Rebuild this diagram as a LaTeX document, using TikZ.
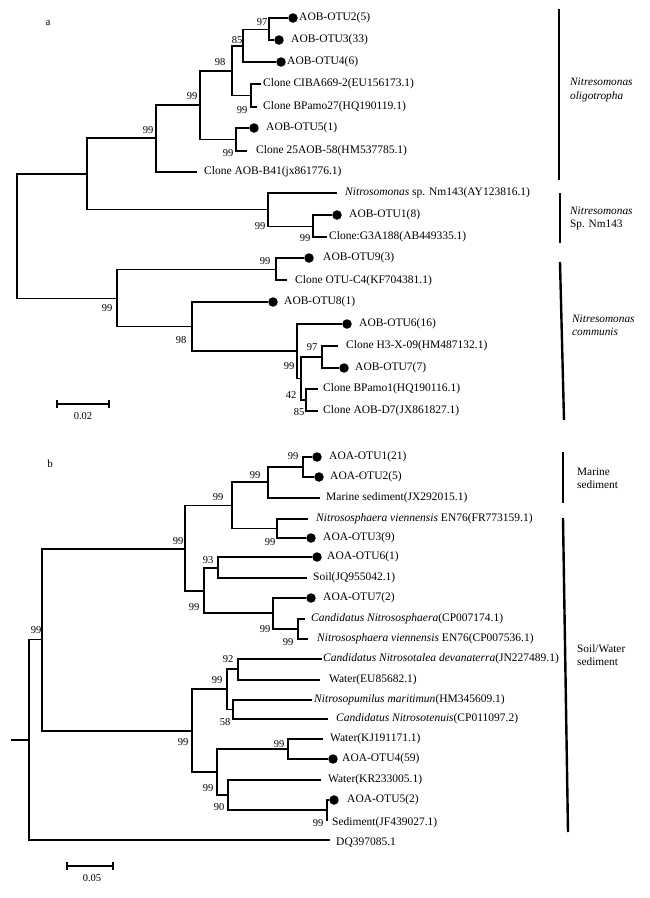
\documentclass[tikz,border=0pt]{standalone}
\usepackage{fontspec}
\setmainfont{Liberation Serif}
\begin{document}
\begin{tikzpicture}[x=1pt,y=-1pt,
  br/.style={line width=1.1pt},
  lbl/.style={anchor=west, inner sep=0pt, font=\fontsize{11.5}{13}\selectfont},
  bs/.style={inner sep=0pt, font=\fontsize{10.5}{12}\selectfont},
  otu/.style={circle, fill=black, inner sep=0pt, minimum size=9.5pt},
  clade/.style={line width=2.4pt},
  cladelbl/.style={anchor=west, align=left, inner sep=0pt, font=\fontsize{11.3}{13.2}\selectfont},
  scalebar/.style={line width=2pt},
  panel/.style={inner sep=0pt, font=\fontsize{11}{13}\selectfont}]
\useasboundingbox (0,0) rectangle (649,898);
\fill[white] (0,0) rectangle (649,898);

% ================= Panel a =================
\node[panel] (pa) at (48,23) {a};
% internal nodes
\coordinate (aR) at (17,235.5);
\coordinate (A1) at (87,174);
\coordinate (B) at (156,138);
\coordinate (D) at (200,105);
\coordinate (E) at (232,71);
\coordinate (G) at (243,46);
\coordinate (I) at (269,29.5);
\coordinate (H) at (251,95.5);
\coordinate (F) at (236,139.5);
\coordinate (J) at (268,209.5);
\coordinate (K) at (313,226.5);
\coordinate (C) at (117,298.5);
\coordinate (L) at (276,269.5);
\coordinate (M) at (192,326.5);
\coordinate (N) at (297,351);
\coordinate (O) at (301,378.5);
\coordinate (Q) at (322,357);
\coordinate (P) at (306,400);
% leaves
\node[otu] (dA2) at (293,18) {};
\node[otu] (dA3) at (279,40) {};
\node[otu] (dA4) at (281,62) {};
\coordinate (eCIBA) at (261,84);
\coordinate (eBP27) at (257,107);
\node[otu] (dA5) at (254,128) {};
\coordinate (e25AOB) at (247,151);
\coordinate (eB41) at (197,172);
\coordinate (eNm) at (337,193);
\node[otu] (dA1) at (337,215) {};
\coordinate (eG3) at (327,237);
\node[otu] (dA9) at (309,258) {};
\coordinate (eC4) at (287,280);
\node[otu] (dA8) at (273,302) {};
\node[otu] (dA6) at (347,324) {};
\coordinate (eH3) at (338,346);
\node[otu] (dA7) at (344,368) {};
\coordinate (eBP1) at (318,389);
\coordinate (eD7) at (318,411);
% labels
\node[lbl] (tA2) at (299,18) {AOB-OTU2(5)};
\node[lbl] (tA3) at (291,40) {AOB-OTU3(33)};
\node[lbl] (tA4) at (287,62) {AOB-OTU4(6)};
\node[lbl] (tCIBA) at (263,84) {Clone CIBA669-2(EU156173.1)};
\node[lbl] (tBP27) at (263,107) {Clone BPamo27(HQ190119.1)};
\node[lbl] (tA5) at (266,128) {AOB-OTU5(1)};
\node[lbl] (t25AOB) at (256,151) {Clone 25AOB-58(HM537785.1)};
\node[lbl] (tB41) at (204,172) {Clone AOB-B41(jx861776.1)};
\node[lbl] (tNm) at (345,193) {\textit{Nitrosomonas} sp. Nm143(AY123816.1)};
\node[lbl] (tA1) at (349,215) {AOB-OTU1(8)};
\node[lbl] (tG3) at (329,237) {Clone:G3A188(AB449335.1)};
\node[lbl] (tA9) at (323,258) {AOB-OTU9(3)};
\node[lbl] (tC4) at (295,281) {Clone OTU-C4(KF704381.1)};
\node[lbl] (tA8) at (284,302) {AOB-OTU8(1)};
\node[lbl] (tA6) at (359,324) {AOB-OTU6(16)};
\node[lbl] (tH3) at (346,346) {Clone H3-X-09(HM487132.1)};
\node[lbl] (tA7) at (355,368) {AOB-OTU7(7)};
\node[lbl] (tBP1) at (323,389) {Clone BPamo1(HQ190116.1)};
\node[lbl] (tD7) at (323,411) {Clone AOB-D7(JX861827.1)};
% branches
\draw[br] (aR) |- (A1);
\draw[br] (aR) |- (C);
\draw[br] (A1) |- (B);
\draw[br] (A1) |- (J);
\draw[br] (B) |- (D);
\draw[br] (B) |- (eB41);
\draw[br] (D) |- (E);
\draw[br] (D) |- (F);
\draw[br] (E) |- (G);
\draw[br] (E) |- (H);
\draw[br] (G) |- (I);
\draw[br] (G) |- (dA4);
\draw[br] (I) |- (dA2);
\draw[br] (I) |- (dA3);
\draw[br] (H) |- (eCIBA);
\draw[br] (H) |- (eBP27);
\draw[br] (F) |- (dA5);
\draw[br] (F) |- (e25AOB);
\draw[br] (J) |- (eNm);
\draw[br] (J) |- (K);
\draw[br] (K) |- (dA1);
\draw[br] (K) |- (eG3);
\draw[br] (C) |- (L);
\draw[br] (C) |- (M);
\draw[br] (L) |- (dA9);
\draw[br] (L) |- (eC4);
\draw[br] (M) |- (dA8);
\draw[br] (M) |- (N);
\draw[br] (N) |- (dA6);
\draw[br] (N) |- (O);
\draw[br] (O) |- (Q);
\draw[br] (O) |- (P);
\draw[br] (Q) |- (eH3);
\draw[br] (Q) |- (dA7);
\draw[br] (P) |- (eBP1);
\draw[br] (P) |- (eD7);
% bootstrap values
\node[bs] (bI) at (262,22) {97};
\node[bs] (bG) at (237,40) {85};
\node[bs] (bE) at (220,62) {98};
\node[bs] (bD) at (192,96) {99};
\node[bs] (bB) at (148,130) {99};
\node[bs] (bH) at (242,110) {99};
\node[bs] (bF) at (228,153) {99};
\node[bs] (bJ) at (260,226) {99};
\node[bs] (bK) at (305,238) {99};
\node[bs] (bC) at (107,308) {99};
\node[bs] (bL) at (265,261) {99};
\node[bs] (bM) at (181,340) {98};
\node[bs] (bQ) at (312,347) {97};
\node[bs] (bN) at (289,366) {99};
\node[bs] (bO) at (291,395) {42};
\node[bs] (bP) at (299,412) {85};
% scale bar
\coordinate (sa1) at (57,404);
\coordinate (sa2) at (109,404);
\draw[scalebar] (sa1) -- (sa2);
\draw[scalebar] ([yshift=4pt]sa1) -- ([yshift=-4pt]sa1);
\draw[scalebar] ([yshift=4pt]sa2) -- ([yshift=-4pt]sa2);
\node[bs] (sal) at (83,416) {0.02};
% clade bars
\coordinate (ca1t) at (559,9);   \coordinate (ca1b) at (559,180);
\coordinate (ca2t) at (560,193); \coordinate (ca2b) at (560,243);
\coordinate (ca3t) at (560,262); \coordinate (ca3b) at (564,420);
\draw[clade] (ca1t) -- (ca1b);
\draw[clade] (ca2t) -- (ca2b);
\draw[clade] (ca3t) -- (ca3b);
\node[cladelbl] (la1) at (570,90) {\textit{Nitresomonas}\\\textit{oligotropha}};
\node[cladelbl] (la2) at (570,218.5) {\textit{Nitresomonas}\\Sp. Nm143};
\node[cladelbl] (la3) at (572,325) {\textit{Nitresomonas}\\\textit{communis}};

% ================= Panel b =================
\node[panel] (pb) at (50,464) {b};
\coordinate (bstub) at (11,740);
\coordinate (bR0) at (29,740);
\coordinate (R) at (42,639.5);
\coordinate (S) at (185,549);
\coordinate (U) at (232,505.5);
\coordinate (W) at (268,482);
\coordinate (Y) at (303,467);
\coordinate (X) at (277,528.5);
\coordinate (V) at (204,591);
\coordinate (Z) at (218,568);
\coordinate (AA) at (273,613);
\coordinate (AB) at (298,629);
\coordinate (T) at (192,731);
\coordinate (AC) at (227,689);
\coordinate (AE) at (238,669);
\coordinate (AF) at (233,709.5);
\coordinate (AD) at (217,772);
\coordinate (AG) at (288,749);
\coordinate (AH) at (228,795);
\coordinate (AI) at (327,810);
% leaves
\node[otu] (dB1) at (317,457) {};
\node[otu] (dB2) at (319,477) {};
\coordinate (eMar) at (320,498);
\coordinate (eNvFR) at (308,519);
\node[otu] (dB3) at (311,538) {};
\node[otu] (dB6) at (317,557) {};
\coordinate (eSoil) at (307,578);
\node[otu] (dB7) at (311,598) {};
\coordinate (eCNs) at (305,619);
\coordinate (eNvCP) at (308,639);
\coordinate (eCNt) at (322,659);
\coordinate (eWEU) at (320,680);
\coordinate (eNpm) at (312,700);
\coordinate (eCNte) at (328,719);
\coordinate (eWKJ) at (323,739);
\node[otu] (dB4) at (333,759) {};
\coordinate (eWKR) at (321,780);
\node[otu] (dB5) at (334,800) {};
\coordinate (eSed) at (327,821);
\coordinate (eDQ) at (330,840);
% labels
\node[lbl] (tB1) at (329,457) {AOA-OTU1(21)};
\node[lbl] (tB2) at (330,477) {AOA-OTU2(5)};
\node[lbl] (tMar) at (326,498) {Marine sediment(JX292015.1)};
\node[lbl] (tNvFR) at (316,519) {\textit{Nitrososphaera viennensis} EN76(FR773159.1)};
\node[lbl] (tB3) at (323,538) {AOA-OTU3(9)};
\node[lbl] (tB6) at (327,557) {AOA-OTU6(1)};
\node[lbl] (tSoil) at (313,578) {Soil(JQ955042.1)};
\node[lbl] (tB7) at (323,598) {AOA-OTU7(2)};
\node[lbl] (tCNs) at (311,619) {\textit{Candidatus Nitrososphaera}(CP007174.1)};
\node[lbl] (tNvCP) at (317,639) {\textit{Nitrososphaera viennensis} EN76(CP007536.1)};
\node[lbl] (tCNt) at (323,659) {\textit{Candidatus Nitrosotalea devanaterra}(JN227489.1)};
\node[lbl] (tWEU) at (329,680) {Water(EU85682.1)};
\node[lbl] (tNpm) at (314,700) {\textit{Nitrosopumilus maritimun}(HM345609.1)};
\node[lbl] (tCNte) at (336,719) {\textit{Candidatus Nitrosotenuis}(CP011097.2)};
\node[lbl] (tWKJ) at (330,739) {Water(KJ191171.1)};
\node[lbl] (tB4) at (342,759) {AOA-OTU4(59)};
\node[lbl] (tWKR) at (328,780) {Water(KR233005.1)};
\node[lbl] (tB5) at (347,800) {AOA-OTU5(2)};
\node[lbl] (tSed) at (332,823) {Sediment(JF439027.1)};
\node[lbl] (tDQ) at (336,843) {DQ397085.1};
% branches
\draw[br] (bstub) -- (bR0);
\draw[br] (bR0) |- (R);
\draw[br] (bR0) |- (eDQ);
\draw[br] (R) |- (S);
\draw[br] (R) |- (T);
\draw[br] (S) |- (U);
\draw[br] (S) |- (V);
\draw[br] (U) |- (W);
\draw[br] (U) |- (X);
\draw[br] (W) |- (Y);
\draw[br] (W) |- (eMar);
\draw[br] (Y) |- (dB1);
\draw[br] (Y) |- (dB2);
\draw[br] (X) |- (eNvFR);
\draw[br] (X) |- (dB3);
\draw[br] (V) |- (Z);
\draw[br] (V) |- (AA);
\draw[br] (Z) |- (dB6);
\draw[br] (Z) |- (eSoil);
\draw[br] (AA) |- (dB7);
\draw[br] (AA) |- (AB);
\draw[br] (AB) |- (eCNs);
\draw[br] (AB) |- (eNvCP);
\draw[br] (T) |- (AC);
\draw[br] (T) |- (AD);
\draw[br] (AC) |- (AE);
\draw[br] (AC) |- (AF);
\draw[br] (AE) |- (eCNt);
\draw[br] (AE) |- (eWEU);
\draw[br] (AF) |- (eNpm);
\draw[br] (AF) |- (eCNte);
\draw[br] (AD) |- (AG);
\draw[br] (AD) |- (AH);
\draw[br] (AG) |- (eWKJ);
\draw[br] (AG) |- (dB4);
\draw[br] (AH) |- (eWKR);
\draw[br] (AH) |- (AI);
\draw[br] (AI) |- (dB5);
\draw[br] (AI) -- (eSed);
% bootstrap values
\node[bs] (bY) at (293,456) {99};
\node[bs] (bW) at (255,475) {99};
\node[bs] (bU) at (218,497) {99};
\node[bs] (bS) at (178,541) {99};
\node[bs] (bX) at (270,542) {99};
\node[bs] (bZ) at (208,560) {93};
\node[bs] (bV) at (194,607) {99};
\node[bs] (bAA) at (265,629) {99};
\node[bs] (bAB) at (288,642) {99};
\node[bs] (bR) at (36,630) {99};
\node[bs] (bAE) at (228,659) {92};
\node[bs] (bAC) at (217,680) {99};
\node[bs] (bAF) at (225,722) {58};
\node[bs] (bT) at (183,742) {99};
\node[bs] (bAG) at (279,744) {99};
\node[bs] (bAD) at (208,788) {99};
\node[bs] (bAH) at (219,807) {90};
\node[bs] (bAI) at (318,823) {99};
% scale bar
\coordinate (sb1) at (67,866);
\coordinate (sb2) at (113,866);
\draw[scalebar] (sb1) -- (sb2);
\draw[scalebar] ([yshift=4pt]sb1) -- ([yshift=-4pt]sb1);
\draw[scalebar] ([yshift=4pt]sb2) -- ([yshift=-4pt]sb2);
\node[bs] (sbl) at (92,878) {0.05};
% clade bars
\coordinate (cb1t) at (563,452); \coordinate (cb1b) at (563,503);
\coordinate (cb2t) at (563,518); \coordinate (cb2b) at (568,832);
\draw[clade] (cb1t) -- (cb1b);
\draw[clade] (cb2t) -- (cb2b);
\node[cladelbl] (lb1) at (577,478.5) {Marine\\sediment};
\node[cladelbl] (lb2) at (577,655.5) {Soil/Water\\sediment};
\end{tikzpicture}
\end{document}
